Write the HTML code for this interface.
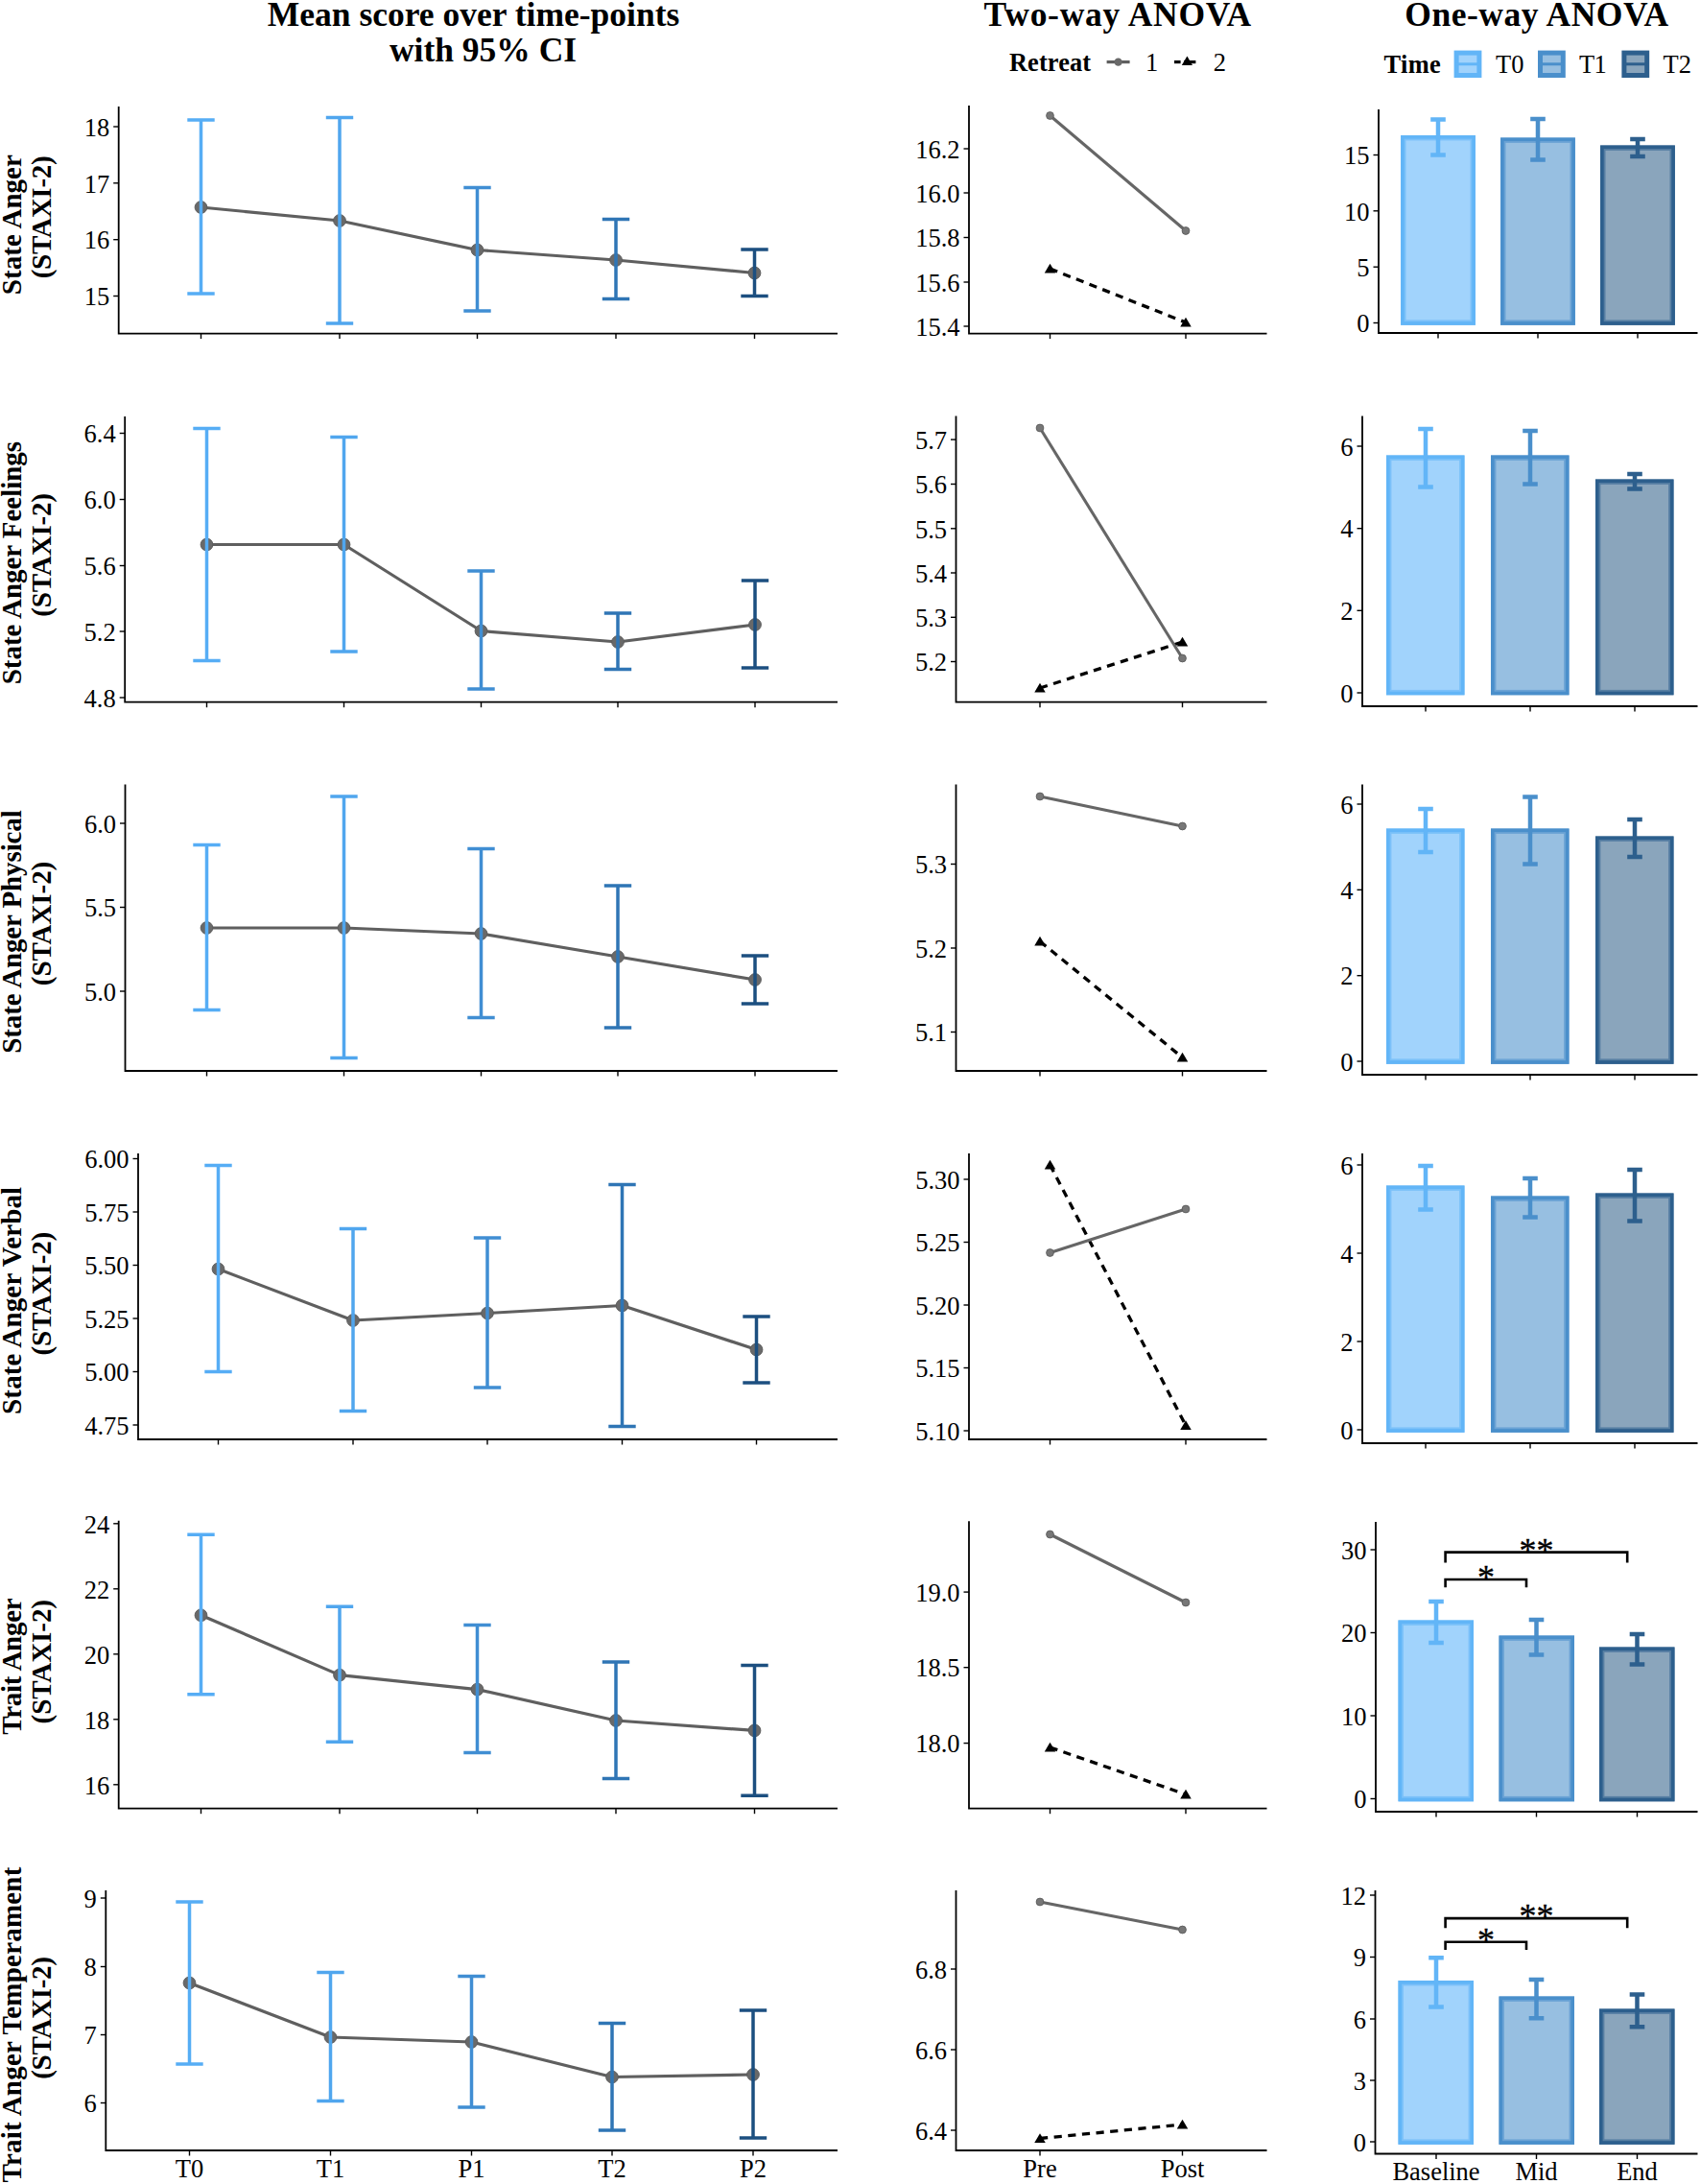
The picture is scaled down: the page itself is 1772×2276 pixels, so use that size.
<!DOCTYPE html>
<html lang="en"><head><meta charset="utf-8"><title>STAXI-2 scores: time-points, two-way and one-way ANOVA</title>
<style>
html,body{margin:0;padding:0;background:#fff;}
body{width:1772px;height:2276px;overflow:hidden;}
svg{display:block;font-family:"Liberation Serif", serif;}
</style></head><body>
<svg width="1772" height="2276" viewBox="0 0 1772 2276" font-family='"Liberation Serif", serif' fill="#000">
<rect width="1772" height="2276" fill="#fff"/>
<text x="278.8" y="27" font-size="35.5" text-anchor="start" font-weight="bold" letter-spacing="0">Mean score over time-points</text>
<text x="405.93" y="64" font-size="35.5" text-anchor="start" font-weight="bold" letter-spacing="0">with 95% CI</text>
<text x="1025.47" y="27" font-size="35.5" text-anchor="start" font-weight="bold" letter-spacing="0.74">Two-way ANOVA</text>
<text x="1464.3" y="27" font-size="35.5" text-anchor="start" font-weight="bold" letter-spacing="0.53">One-way ANOVA</text>
<text x="1051.95" y="74.4" font-size="26.4" text-anchor="start" font-weight="bold" letter-spacing="0.1">Retreat</text>
<line x1="1153.6" y1="64.6" x2="1177.6" y2="64.6" stroke="#5F5F5F" stroke-width="3.2"/>
<circle cx="1165.6" cy="64.6" r="4.2" fill="#696969"/>
<text x="1200.6" y="74.4" font-size="26.5" text-anchor="middle">1</text>
<line x1="1224" y1="64.6" x2="1230.6" y2="64.6" stroke="#000" stroke-width="3.2"/>
<line x1="1234" y1="64.6" x2="1246.4" y2="64.6" stroke="#000" stroke-width="3.2"/>
<path d="M1237.4 58.39 L1243 67.97 L1231.8 67.97 Z" fill="#000"/>
<text x="1271.4" y="74.4" font-size="26.5" text-anchor="middle">2</text>
<text x="1442.6" y="76" font-size="26.4" text-anchor="start" font-weight="bold" letter-spacing="0.3">Time</text>
<rect x="1518.1" y="55.1" width="23.8" height="23.4" fill="#A1D3FC" stroke="#62B5F7" stroke-width="5"/>
<line x1="1518.1" y1="66.8" x2="1541.9" y2="66.8" stroke="#62B5F7" stroke-width="3"/>
<text x="1559.12" y="76" font-size="26.5" text-anchor="start" letter-spacing="0.04">T0</text>
<rect x="1605.5" y="55.1" width="23.8" height="23.4" fill="#97BFE1" stroke="#4A8FCB" stroke-width="5"/>
<line x1="1605.5" y1="66.8" x2="1629.3" y2="66.8" stroke="#4A8FCB" stroke-width="3"/>
<text x="1645.92" y="76" font-size="26.5" text-anchor="start" letter-spacing="-0.5">T1</text>
<rect x="1692.9" y="55.1" width="23.8" height="23.4" fill="#8AA5BC" stroke="#2D5F8D" stroke-width="5"/>
<line x1="1692.9" y1="66.8" x2="1716.7" y2="66.8" stroke="#2D5F8D" stroke-width="3"/>
<text x="1733.52" y="76" font-size="26.5" text-anchor="start" letter-spacing="0.09">T2</text>
<path d="M123.7 111 V347.6 H873" fill="none" stroke="#000" stroke-width="1.8" stroke-linejoin="miter"/>
<line x1="118.2" y1="132" x2="123.7" y2="132" stroke="#000" stroke-width="1.4"/>
<text x="114.2" y="141.7" font-size="26.5" text-anchor="end">18</text>
<line x1="118.2" y1="190.8" x2="123.7" y2="190.8" stroke="#000" stroke-width="1.4"/>
<text x="114.2" y="200.5" font-size="26.5" text-anchor="end">17</text>
<line x1="118.2" y1="249.7" x2="123.7" y2="249.7" stroke="#000" stroke-width="1.4"/>
<text x="114.2" y="259.4" font-size="26.5" text-anchor="end">16</text>
<line x1="118.2" y1="308.5" x2="123.7" y2="308.5" stroke="#000" stroke-width="1.4"/>
<text x="114.2" y="318.2" font-size="26.5" text-anchor="end">15</text>
<line x1="209.5" y1="347.6" x2="209.5" y2="353.1" stroke="#000" stroke-width="1.4"/>
<line x1="354" y1="347.6" x2="354" y2="353.1" stroke="#000" stroke-width="1.4"/>
<line x1="497.5" y1="347.6" x2="497.5" y2="353.1" stroke="#000" stroke-width="1.4"/>
<line x1="642" y1="347.6" x2="642" y2="353.1" stroke="#000" stroke-width="1.4"/>
<line x1="786.5" y1="347.6" x2="786.5" y2="353.1" stroke="#000" stroke-width="1.4"/>
<path d="M209.5 216 L354 230 L497.5 260.5 L642 271 L786.5 284.5" fill="none" stroke="#5F5F5F" stroke-width="3.2" stroke-linejoin="round"/>
<circle cx="209.5" cy="216" r="6.4" fill="#696969" stroke="#5a5a5a" stroke-width="0.9"/>
<circle cx="354" cy="230" r="6.4" fill="#696969" stroke="#5a5a5a" stroke-width="0.9"/>
<circle cx="497.5" cy="260.5" r="6.4" fill="#696969" stroke="#5a5a5a" stroke-width="0.9"/>
<circle cx="642" cy="271" r="6.4" fill="#696969" stroke="#5a5a5a" stroke-width="0.9"/>
<circle cx="786.5" cy="284.5" r="6.4" fill="#696969" stroke="#5a5a5a" stroke-width="0.9"/>
<path d="M195.3 125 H223.7 M195.3 306 H223.7 M209.5 125 V306" fill="none" stroke="#56ADF5" stroke-width="3.5"/>
<path d="M339.8 122.5 H368.2 M339.8 337 H368.2 M354 122.5 V337" fill="none" stroke="#50A6EE" stroke-width="3.5"/>
<path d="M483.3 195.5 H511.7 M483.3 324 H511.7 M497.5 195.5 V324" fill="none" stroke="#408ED3" stroke-width="3.5"/>
<path d="M627.8 228.5 H656.2 M627.8 311.5 H656.2 M642 228.5 V311.5" fill="none" stroke="#2F75B5" stroke-width="3.5"/>
<path d="M772.3 260 H800.7 M772.3 308.5 H800.7 M786.5 260 V308.5" fill="none" stroke="#1C4F80" stroke-width="3.5"/>
<text transform="translate(21.8 305.6) rotate(-90)" x="-1.54" y="0" font-size="29" font-weight="bold" letter-spacing="0.02">State Anger</text>
<text transform="translate(52.7 289.1) rotate(-90)" x="-1.25" y="0" font-size="29" font-weight="bold" letter-spacing="-0.23">(STAXI-2)</text>
<path d="M130.2 434 V731.7 H873" fill="none" stroke="#000" stroke-width="1.8" stroke-linejoin="miter"/>
<line x1="124.7" y1="451.5" x2="130.2" y2="451.5" stroke="#000" stroke-width="1.4"/>
<text x="120.7" y="461.2" font-size="26.5" text-anchor="end">6.4</text>
<line x1="124.7" y1="520.5" x2="130.2" y2="520.5" stroke="#000" stroke-width="1.4"/>
<text x="120.7" y="530.2" font-size="26.5" text-anchor="end">6.0</text>
<line x1="124.7" y1="589.5" x2="130.2" y2="589.5" stroke="#000" stroke-width="1.4"/>
<text x="120.7" y="599.2" font-size="26.5" text-anchor="end">5.6</text>
<line x1="124.7" y1="658" x2="130.2" y2="658" stroke="#000" stroke-width="1.4"/>
<text x="120.7" y="667.7" font-size="26.5" text-anchor="end">5.2</text>
<line x1="124.7" y1="727" x2="130.2" y2="727" stroke="#000" stroke-width="1.4"/>
<text x="120.7" y="736.7" font-size="26.5" text-anchor="end">4.8</text>
<line x1="215.5" y1="731.7" x2="215.5" y2="737.2" stroke="#000" stroke-width="1.4"/>
<line x1="358.5" y1="731.7" x2="358.5" y2="737.2" stroke="#000" stroke-width="1.4"/>
<line x1="501.5" y1="731.7" x2="501.5" y2="737.2" stroke="#000" stroke-width="1.4"/>
<line x1="644" y1="731.7" x2="644" y2="737.2" stroke="#000" stroke-width="1.4"/>
<line x1="787" y1="731.7" x2="787" y2="737.2" stroke="#000" stroke-width="1.4"/>
<path d="M215.5 567.5 L358.5 567.5 L501.5 657.5 L644 669 L787 651" fill="none" stroke="#5F5F5F" stroke-width="3.2" stroke-linejoin="round"/>
<circle cx="215.5" cy="567.5" r="6.4" fill="#696969" stroke="#5a5a5a" stroke-width="0.9"/>
<circle cx="358.5" cy="567.5" r="6.4" fill="#696969" stroke="#5a5a5a" stroke-width="0.9"/>
<circle cx="501.5" cy="657.5" r="6.4" fill="#696969" stroke="#5a5a5a" stroke-width="0.9"/>
<circle cx="644" cy="669" r="6.4" fill="#696969" stroke="#5a5a5a" stroke-width="0.9"/>
<circle cx="787" cy="651" r="6.4" fill="#696969" stroke="#5a5a5a" stroke-width="0.9"/>
<path d="M201.3 446.5 H229.7 M201.3 688.5 H229.7 M215.5 446.5 V688.5" fill="none" stroke="#56ADF5" stroke-width="3.5"/>
<path d="M344.3 455.5 H372.7 M344.3 679 H372.7 M358.5 455.5 V679" fill="none" stroke="#50A6EE" stroke-width="3.5"/>
<path d="M487.3 595 H515.7 M487.3 718 H515.7 M501.5 595 V718" fill="none" stroke="#408ED3" stroke-width="3.5"/>
<path d="M629.8 639 H658.2 M629.8 697.5 H658.2 M644 639 V697.5" fill="none" stroke="#2F75B5" stroke-width="3.5"/>
<path d="M772.8 605 H801.2 M772.8 696 H801.2 M787 605 V696" fill="none" stroke="#1C4F80" stroke-width="3.5"/>
<text transform="translate(21.8 711.7) rotate(-90)" x="-1.54" y="0" font-size="29" font-weight="bold" letter-spacing="-0.04">State Anger Feelings</text>
<text transform="translate(52.7 641.4) rotate(-90)" x="-1.25" y="0" font-size="29" font-weight="bold" letter-spacing="-0.16">(STAXI-2)</text>
<path d="M130.5 817.5 V1116 H873" fill="none" stroke="#000" stroke-width="1.8" stroke-linejoin="miter"/>
<line x1="125" y1="858" x2="130.5" y2="858" stroke="#000" stroke-width="1.4"/>
<text x="121" y="867.7" font-size="26.5" text-anchor="end">6.0</text>
<line x1="125" y1="945.5" x2="130.5" y2="945.5" stroke="#000" stroke-width="1.4"/>
<text x="121" y="955.2" font-size="26.5" text-anchor="end">5.5</text>
<line x1="125" y1="1033" x2="130.5" y2="1033" stroke="#000" stroke-width="1.4"/>
<text x="121" y="1042.7" font-size="26.5" text-anchor="end">5.0</text>
<line x1="215.5" y1="1116" x2="215.5" y2="1121.5" stroke="#000" stroke-width="1.4"/>
<line x1="358.5" y1="1116" x2="358.5" y2="1121.5" stroke="#000" stroke-width="1.4"/>
<line x1="501.5" y1="1116" x2="501.5" y2="1121.5" stroke="#000" stroke-width="1.4"/>
<line x1="644" y1="1116" x2="644" y2="1121.5" stroke="#000" stroke-width="1.4"/>
<line x1="787" y1="1116" x2="787" y2="1121.5" stroke="#000" stroke-width="1.4"/>
<path d="M215.5 967 L358.5 967 L501.5 973 L644 997 L787 1021" fill="none" stroke="#5F5F5F" stroke-width="3.2" stroke-linejoin="round"/>
<circle cx="215.5" cy="967" r="6.4" fill="#696969" stroke="#5a5a5a" stroke-width="0.9"/>
<circle cx="358.5" cy="967" r="6.4" fill="#696969" stroke="#5a5a5a" stroke-width="0.9"/>
<circle cx="501.5" cy="973" r="6.4" fill="#696969" stroke="#5a5a5a" stroke-width="0.9"/>
<circle cx="644" cy="997" r="6.4" fill="#696969" stroke="#5a5a5a" stroke-width="0.9"/>
<circle cx="787" cy="1021" r="6.4" fill="#696969" stroke="#5a5a5a" stroke-width="0.9"/>
<path d="M201.3 880.5 H229.7 M201.3 1052.5 H229.7 M215.5 880.5 V1052.5" fill="none" stroke="#56ADF5" stroke-width="3.5"/>
<path d="M344.3 830 H372.7 M344.3 1102.5 H372.7 M358.5 830 V1102.5" fill="none" stroke="#50A6EE" stroke-width="3.5"/>
<path d="M487.3 884.5 H515.7 M487.3 1060.5 H515.7 M501.5 884.5 V1060.5" fill="none" stroke="#408ED3" stroke-width="3.5"/>
<path d="M629.8 923 H658.2 M629.8 1071 H658.2 M644 923 V1071" fill="none" stroke="#2F75B5" stroke-width="3.5"/>
<path d="M772.8 996 H801.2 M772.8 1046 H801.2 M787 996 V1046" fill="none" stroke="#1C4F80" stroke-width="3.5"/>
<text transform="translate(21.8 1096.2) rotate(-90)" x="-1.54" y="0" font-size="29" font-weight="bold" letter-spacing="-0.11">State Anger Physical</text>
<text transform="translate(52.7 1025.9) rotate(-90)" x="-1.25" y="0" font-size="29" font-weight="bold" letter-spacing="-0.07">(STAXI-2)</text>
<path d="M144 1202 V1500 H873" fill="none" stroke="#000" stroke-width="1.8" stroke-linejoin="miter"/>
<line x1="138.5" y1="1207.5" x2="144" y2="1207.5" stroke="#000" stroke-width="1.4"/>
<text x="134.5" y="1217.2" font-size="26.5" text-anchor="end">6.00</text>
<line x1="138.5" y1="1263" x2="144" y2="1263" stroke="#000" stroke-width="1.4"/>
<text x="134.5" y="1272.7" font-size="26.5" text-anchor="end">5.75</text>
<line x1="138.5" y1="1318.5" x2="144" y2="1318.5" stroke="#000" stroke-width="1.4"/>
<text x="134.5" y="1328.2" font-size="26.5" text-anchor="end">5.50</text>
<line x1="138.5" y1="1374" x2="144" y2="1374" stroke="#000" stroke-width="1.4"/>
<text x="134.5" y="1383.7" font-size="26.5" text-anchor="end">5.25</text>
<line x1="138.5" y1="1429.5" x2="144" y2="1429.5" stroke="#000" stroke-width="1.4"/>
<text x="134.5" y="1439.2" font-size="26.5" text-anchor="end">5.00</text>
<line x1="138.5" y1="1485" x2="144" y2="1485" stroke="#000" stroke-width="1.4"/>
<text x="134.5" y="1494.7" font-size="26.5" text-anchor="end">4.75</text>
<line x1="227.5" y1="1500" x2="227.5" y2="1505.5" stroke="#000" stroke-width="1.4"/>
<line x1="368" y1="1500" x2="368" y2="1505.5" stroke="#000" stroke-width="1.4"/>
<line x1="508" y1="1500" x2="508" y2="1505.5" stroke="#000" stroke-width="1.4"/>
<line x1="648.5" y1="1500" x2="648.5" y2="1505.5" stroke="#000" stroke-width="1.4"/>
<line x1="788.5" y1="1500" x2="788.5" y2="1505.5" stroke="#000" stroke-width="1.4"/>
<path d="M227.5 1322.5 L368 1376 L508 1368.5 L648.5 1360.5 L788.5 1406.5" fill="none" stroke="#5F5F5F" stroke-width="3.2" stroke-linejoin="round"/>
<circle cx="227.5" cy="1322.5" r="6.4" fill="#696969" stroke="#5a5a5a" stroke-width="0.9"/>
<circle cx="368" cy="1376" r="6.4" fill="#696969" stroke="#5a5a5a" stroke-width="0.9"/>
<circle cx="508" cy="1368.5" r="6.4" fill="#696969" stroke="#5a5a5a" stroke-width="0.9"/>
<circle cx="648.5" cy="1360.5" r="6.4" fill="#696969" stroke="#5a5a5a" stroke-width="0.9"/>
<circle cx="788.5" cy="1406.5" r="6.4" fill="#696969" stroke="#5a5a5a" stroke-width="0.9"/>
<path d="M213.3 1214.5 H241.7 M213.3 1429.5 H241.7 M227.5 1214.5 V1429.5" fill="none" stroke="#56ADF5" stroke-width="3.5"/>
<path d="M353.8 1280.5 H382.2 M353.8 1470.5 H382.2 M368 1280.5 V1470.5" fill="none" stroke="#50A6EE" stroke-width="3.5"/>
<path d="M493.8 1290 H522.2 M493.8 1446 H522.2 M508 1290 V1446" fill="none" stroke="#408ED3" stroke-width="3.5"/>
<path d="M634.3 1234.5 H662.7 M634.3 1486.5 H662.7 M648.5 1234.5 V1486.5" fill="none" stroke="#2F75B5" stroke-width="3.5"/>
<path d="M774.3 1372 H802.7 M774.3 1441 H802.7 M788.5 1372 V1441" fill="none" stroke="#1C4F80" stroke-width="3.5"/>
<text transform="translate(21.8 1472.4) rotate(-90)" x="-1.54" y="0" font-size="29" font-weight="bold" letter-spacing="0.14">State Anger Verbal</text>
<text transform="translate(52.7 1411.2) rotate(-90)" x="-1.25" y="0" font-size="29" font-weight="bold" letter-spacing="-0.16">(STAXI-2)</text>
<path d="M123.7 1584.8 V1884.7 H873" fill="none" stroke="#000" stroke-width="1.8" stroke-linejoin="miter"/>
<line x1="118.2" y1="1587.8" x2="123.7" y2="1587.8" stroke="#000" stroke-width="1.4"/>
<text x="114.2" y="1597.5" font-size="26.5" text-anchor="end">24</text>
<line x1="118.2" y1="1655.8" x2="123.7" y2="1655.8" stroke="#000" stroke-width="1.4"/>
<text x="114.2" y="1665.5" font-size="26.5" text-anchor="end">22</text>
<line x1="118.2" y1="1723.8" x2="123.7" y2="1723.8" stroke="#000" stroke-width="1.4"/>
<text x="114.2" y="1733.5" font-size="26.5" text-anchor="end">20</text>
<line x1="118.2" y1="1791.8" x2="123.7" y2="1791.8" stroke="#000" stroke-width="1.4"/>
<text x="114.2" y="1801.5" font-size="26.5" text-anchor="end">18</text>
<line x1="118.2" y1="1859.8" x2="123.7" y2="1859.8" stroke="#000" stroke-width="1.4"/>
<text x="114.2" y="1869.5" font-size="26.5" text-anchor="end">16</text>
<line x1="209.5" y1="1884.7" x2="209.5" y2="1890.2" stroke="#000" stroke-width="1.4"/>
<line x1="354" y1="1884.7" x2="354" y2="1890.2" stroke="#000" stroke-width="1.4"/>
<line x1="497.5" y1="1884.7" x2="497.5" y2="1890.2" stroke="#000" stroke-width="1.4"/>
<line x1="642" y1="1884.7" x2="642" y2="1890.2" stroke="#000" stroke-width="1.4"/>
<line x1="786.5" y1="1884.7" x2="786.5" y2="1890.2" stroke="#000" stroke-width="1.4"/>
<path d="M209.5 1683.3 L354 1745.6 L497.5 1760.6 L642 1793 L786.5 1803.4" fill="none" stroke="#5F5F5F" stroke-width="3.2" stroke-linejoin="round"/>
<circle cx="209.5" cy="1683.3" r="6.4" fill="#696969" stroke="#5a5a5a" stroke-width="0.9"/>
<circle cx="354" cy="1745.6" r="6.4" fill="#696969" stroke="#5a5a5a" stroke-width="0.9"/>
<circle cx="497.5" cy="1760.6" r="6.4" fill="#696969" stroke="#5a5a5a" stroke-width="0.9"/>
<circle cx="642" cy="1793" r="6.4" fill="#696969" stroke="#5a5a5a" stroke-width="0.9"/>
<circle cx="786.5" cy="1803.4" r="6.4" fill="#696969" stroke="#5a5a5a" stroke-width="0.9"/>
<path d="M195.3 1599.3 H223.7 M195.3 1765.8 H223.7 M209.5 1599.3 V1765.8" fill="none" stroke="#56ADF5" stroke-width="3.5"/>
<path d="M339.8 1674.3 H368.2 M339.8 1815.3 H368.2 M354 1674.3 V1815.3" fill="none" stroke="#50A6EE" stroke-width="3.5"/>
<path d="M483.3 1693.6 H511.7 M483.3 1826.6 H511.7 M497.5 1693.6 V1826.6" fill="none" stroke="#408ED3" stroke-width="3.5"/>
<path d="M627.8 1732 H656.2 M627.8 1853.6 H656.2 M642 1732 V1853.6" fill="none" stroke="#2F75B5" stroke-width="3.5"/>
<path d="M772.3 1735.4 H800.7 M772.3 1871.2 H800.7 M786.5 1735.4 V1871.2" fill="none" stroke="#1C4F80" stroke-width="3.5"/>
<text transform="translate(21.8 1807.3) rotate(-90)" x="-0.43" y="0" font-size="29" font-weight="bold" letter-spacing="-0.29">Trait Anger</text>
<text transform="translate(52.7 1795.2) rotate(-90)" x="-1.25" y="0" font-size="29" font-weight="bold" letter-spacing="-0.06">(STAXI-2)</text>
<path d="M110.3 1970 V2241 H873" fill="none" stroke="#000" stroke-width="1.8" stroke-linejoin="miter"/>
<line x1="104.8" y1="1978" x2="110.3" y2="1978" stroke="#000" stroke-width="1.4"/>
<text x="100.8" y="1987.7" font-size="26.5" text-anchor="end">9</text>
<line x1="104.8" y1="2049.5" x2="110.3" y2="2049.5" stroke="#000" stroke-width="1.4"/>
<text x="100.8" y="2059.2" font-size="26.5" text-anchor="end">8</text>
<line x1="104.8" y1="2120.5" x2="110.3" y2="2120.5" stroke="#000" stroke-width="1.4"/>
<text x="100.8" y="2130.2" font-size="26.5" text-anchor="end">7</text>
<line x1="104.8" y1="2191.5" x2="110.3" y2="2191.5" stroke="#000" stroke-width="1.4"/>
<text x="100.8" y="2201.2" font-size="26.5" text-anchor="end">6</text>
<line x1="197.5" y1="2241" x2="197.5" y2="2246.5" stroke="#000" stroke-width="1.4"/>
<text x="197.5" y="2268.5" font-size="26.5" text-anchor="middle">T0</text>
<line x1="344.5" y1="2241" x2="344.5" y2="2246.5" stroke="#000" stroke-width="1.4"/>
<text x="344.5" y="2268.5" font-size="26.5" text-anchor="middle">T1</text>
<line x1="491.5" y1="2241" x2="491.5" y2="2246.5" stroke="#000" stroke-width="1.4"/>
<text x="491.5" y="2268.5" font-size="26.5" text-anchor="middle">P1</text>
<line x1="638" y1="2241" x2="638" y2="2246.5" stroke="#000" stroke-width="1.4"/>
<text x="638" y="2268.5" font-size="26.5" text-anchor="middle">T2</text>
<line x1="785" y1="2241" x2="785" y2="2246.5" stroke="#000" stroke-width="1.4"/>
<text x="785" y="2268.5" font-size="26.5" text-anchor="middle">P2</text>
<path d="M197.5 2066.5 L344.5 2123 L491.5 2128 L638 2164.5 L785 2162" fill="none" stroke="#5F5F5F" stroke-width="3.2" stroke-linejoin="round"/>
<circle cx="197.5" cy="2066.5" r="6.4" fill="#696969" stroke="#5a5a5a" stroke-width="0.9"/>
<circle cx="344.5" cy="2123" r="6.4" fill="#696969" stroke="#5a5a5a" stroke-width="0.9"/>
<circle cx="491.5" cy="2128" r="6.4" fill="#696969" stroke="#5a5a5a" stroke-width="0.9"/>
<circle cx="638" cy="2164.5" r="6.4" fill="#696969" stroke="#5a5a5a" stroke-width="0.9"/>
<circle cx="785" cy="2162" r="6.4" fill="#696969" stroke="#5a5a5a" stroke-width="0.9"/>
<path d="M183.3 1982 H211.7 M183.3 2151 H211.7 M197.5 1982 V2151" fill="none" stroke="#56ADF5" stroke-width="3.5"/>
<path d="M330.3 2055.5 H358.7 M330.3 2189.5 H358.7 M344.5 2055.5 V2189.5" fill="none" stroke="#50A6EE" stroke-width="3.5"/>
<path d="M477.3 2059.5 H505.7 M477.3 2196 H505.7 M491.5 2059.5 V2196" fill="none" stroke="#408ED3" stroke-width="3.5"/>
<path d="M623.8 2108.5 H652.2 M623.8 2220 H652.2 M638 2108.5 V2220" fill="none" stroke="#2F75B5" stroke-width="3.5"/>
<path d="M770.8 2095 H799.2 M770.8 2228 H799.2 M785 2095 V2228" fill="none" stroke="#1C4F80" stroke-width="3.5"/>
<text transform="translate(21.8 2274) rotate(-90)" x="-0.43" y="0" font-size="29" font-weight="bold" letter-spacing="0.2">Trait Anger Temperament</text>
<text transform="translate(52.7 2165.6) rotate(-90)" x="-1.25" y="0" font-size="29" font-weight="bold" letter-spacing="-0.27">(STAXI-2)</text>
<path d="M1010 110 V347.6 H1320.5" fill="none" stroke="#000" stroke-width="1.8" stroke-linejoin="miter"/>
<line x1="1004.5" y1="155" x2="1010" y2="155" stroke="#000" stroke-width="1.4"/>
<text x="1000.5" y="164.7" font-size="26.5" text-anchor="end">16.2</text>
<line x1="1004.5" y1="201" x2="1010" y2="201" stroke="#000" stroke-width="1.4"/>
<text x="1000.5" y="210.7" font-size="26.5" text-anchor="end">16.0</text>
<line x1="1004.5" y1="247.5" x2="1010" y2="247.5" stroke="#000" stroke-width="1.4"/>
<text x="1000.5" y="257.2" font-size="26.5" text-anchor="end">15.8</text>
<line x1="1004.5" y1="294" x2="1010" y2="294" stroke="#000" stroke-width="1.4"/>
<text x="1000.5" y="303.7" font-size="26.5" text-anchor="end">15.6</text>
<line x1="1004.5" y1="340" x2="1010" y2="340" stroke="#000" stroke-width="1.4"/>
<text x="1000.5" y="349.7" font-size="26.5" text-anchor="end">15.4</text>
<line x1="1094.5" y1="347.6" x2="1094.5" y2="353.1" stroke="#000" stroke-width="1.4"/>
<line x1="1236" y1="347.6" x2="1236" y2="353.1" stroke="#000" stroke-width="1.4"/>
<line x1="1094.5" y1="280" x2="1236" y2="336" stroke="#000" stroke-width="3.3" stroke-dasharray="8.2 6.5"/>
<path d="M1094.5 274.65 L1100.25 284.49 L1088.75 284.49 Z" fill="#000"/>
<path d="M1236 330.65 L1241.75 340.49 L1230.25 340.49 Z" fill="#000"/>
<line x1="1094.5" y1="120.5" x2="1236" y2="240.5" stroke="#666" stroke-width="3.1"/>
<circle cx="1094.5" cy="120.5" r="3.9" fill="#777" stroke="#5c5c5c" stroke-width="0.9"/>
<circle cx="1236" cy="240.5" r="3.9" fill="#777" stroke="#5c5c5c" stroke-width="0.9"/>
<path d="M996.5 433.5 V731.7 H1320.5" fill="none" stroke="#000" stroke-width="1.8" stroke-linejoin="miter"/>
<line x1="991" y1="458.1" x2="996.5" y2="458.1" stroke="#000" stroke-width="1.4"/>
<text x="987" y="467.8" font-size="26.5" text-anchor="end">5.7</text>
<line x1="991" y1="504.5" x2="996.5" y2="504.5" stroke="#000" stroke-width="1.4"/>
<text x="987" y="514.2" font-size="26.5" text-anchor="end">5.6</text>
<line x1="991" y1="550.8" x2="996.5" y2="550.8" stroke="#000" stroke-width="1.4"/>
<text x="987" y="560.5" font-size="26.5" text-anchor="end">5.5</text>
<line x1="991" y1="597" x2="996.5" y2="597" stroke="#000" stroke-width="1.4"/>
<text x="987" y="606.7" font-size="26.5" text-anchor="end">5.4</text>
<line x1="991" y1="643.3" x2="996.5" y2="643.3" stroke="#000" stroke-width="1.4"/>
<text x="987" y="653" font-size="26.5" text-anchor="end">5.3</text>
<line x1="991" y1="689.5" x2="996.5" y2="689.5" stroke="#000" stroke-width="1.4"/>
<text x="987" y="699.2" font-size="26.5" text-anchor="end">5.2</text>
<line x1="1084" y1="731.7" x2="1084" y2="737.2" stroke="#000" stroke-width="1.4"/>
<line x1="1232.5" y1="731.7" x2="1232.5" y2="737.2" stroke="#000" stroke-width="1.4"/>
<line x1="1084" y1="717" x2="1232.5" y2="669" stroke="#000" stroke-width="3.3" stroke-dasharray="8.2 6.5"/>
<path d="M1084 711.65 L1089.75 721.49 L1078.25 721.49 Z" fill="#000"/>
<path d="M1232.5 663.65 L1238.25 673.49 L1226.75 673.49 Z" fill="#000"/>
<line x1="1084" y1="446" x2="1232.5" y2="686" stroke="#666" stroke-width="3.1"/>
<circle cx="1084" cy="446" r="3.9" fill="#777" stroke="#5c5c5c" stroke-width="0.9"/>
<circle cx="1232.5" cy="686" r="3.9" fill="#777" stroke="#5c5c5c" stroke-width="0.9"/>
<path d="M996.5 817.5 V1116 H1320.5" fill="none" stroke="#000" stroke-width="1.8" stroke-linejoin="miter"/>
<line x1="991" y1="900.5" x2="996.5" y2="900.5" stroke="#000" stroke-width="1.4"/>
<text x="987" y="910.2" font-size="26.5" text-anchor="end">5.3</text>
<line x1="991" y1="988" x2="996.5" y2="988" stroke="#000" stroke-width="1.4"/>
<text x="987" y="997.7" font-size="26.5" text-anchor="end">5.2</text>
<line x1="991" y1="1075.5" x2="996.5" y2="1075.5" stroke="#000" stroke-width="1.4"/>
<text x="987" y="1085.2" font-size="26.5" text-anchor="end">5.1</text>
<line x1="1084" y1="1116" x2="1084" y2="1121.5" stroke="#000" stroke-width="1.4"/>
<line x1="1232.5" y1="1116" x2="1232.5" y2="1121.5" stroke="#000" stroke-width="1.4"/>
<line x1="1084" y1="981" x2="1232.5" y2="1102" stroke="#000" stroke-width="3.3" stroke-dasharray="8.2 6.5"/>
<path d="M1084 975.65 L1089.75 985.49 L1078.25 985.49 Z" fill="#000"/>
<path d="M1232.5 1096.65 L1238.25 1106.48 L1226.75 1106.48 Z" fill="#000"/>
<line x1="1084" y1="830" x2="1232.5" y2="861" stroke="#666" stroke-width="3.1"/>
<circle cx="1084" cy="830" r="3.9" fill="#777" stroke="#5c5c5c" stroke-width="0.9"/>
<circle cx="1232.5" cy="861" r="3.9" fill="#777" stroke="#5c5c5c" stroke-width="0.9"/>
<path d="M1010 1202 V1500 H1320.5" fill="none" stroke="#000" stroke-width="1.8" stroke-linejoin="miter"/>
<line x1="1004.5" y1="1229" x2="1010" y2="1229" stroke="#000" stroke-width="1.4"/>
<text x="1000.5" y="1238.7" font-size="26.5" text-anchor="end">5.30</text>
<line x1="1004.5" y1="1294.5" x2="1010" y2="1294.5" stroke="#000" stroke-width="1.4"/>
<text x="1000.5" y="1304.2" font-size="26.5" text-anchor="end">5.25</text>
<line x1="1004.5" y1="1360" x2="1010" y2="1360" stroke="#000" stroke-width="1.4"/>
<text x="1000.5" y="1369.7" font-size="26.5" text-anchor="end">5.20</text>
<line x1="1004.5" y1="1425.5" x2="1010" y2="1425.5" stroke="#000" stroke-width="1.4"/>
<text x="1000.5" y="1435.2" font-size="26.5" text-anchor="end">5.15</text>
<line x1="1004.5" y1="1491" x2="1010" y2="1491" stroke="#000" stroke-width="1.4"/>
<text x="1000.5" y="1500.7" font-size="26.5" text-anchor="end">5.10</text>
<line x1="1094.5" y1="1500" x2="1094.5" y2="1505.5" stroke="#000" stroke-width="1.4"/>
<line x1="1236" y1="1500" x2="1236" y2="1505.5" stroke="#000" stroke-width="1.4"/>
<line x1="1094.5" y1="1214" x2="1236" y2="1485.5" stroke="#000" stroke-width="3.3" stroke-dasharray="8.2 6.5"/>
<path d="M1094.5 1208.65 L1100.25 1218.48 L1088.75 1218.48 Z" fill="#000"/>
<path d="M1236 1480.15 L1241.75 1489.98 L1230.25 1489.98 Z" fill="#000"/>
<line x1="1094.5" y1="1305.5" x2="1236" y2="1260" stroke="#666" stroke-width="3.1"/>
<circle cx="1094.5" cy="1305.5" r="3.9" fill="#777" stroke="#5c5c5c" stroke-width="0.9"/>
<circle cx="1236" cy="1260" r="3.9" fill="#777" stroke="#5c5c5c" stroke-width="0.9"/>
<path d="M1010 1585.3 V1884.7 H1320.5" fill="none" stroke="#000" stroke-width="1.8" stroke-linejoin="miter"/>
<line x1="1004.5" y1="1659.1" x2="1010" y2="1659.1" stroke="#000" stroke-width="1.4"/>
<text x="1000.5" y="1668.8" font-size="26.5" text-anchor="end">19.0</text>
<line x1="1004.5" y1="1737.7" x2="1010" y2="1737.7" stroke="#000" stroke-width="1.4"/>
<text x="1000.5" y="1747.4" font-size="26.5" text-anchor="end">18.5</text>
<line x1="1004.5" y1="1816.6" x2="1010" y2="1816.6" stroke="#000" stroke-width="1.4"/>
<text x="1000.5" y="1826.3" font-size="26.5" text-anchor="end">18.0</text>
<line x1="1094.5" y1="1884.7" x2="1094.5" y2="1890.2" stroke="#000" stroke-width="1.4"/>
<line x1="1236" y1="1884.7" x2="1236" y2="1890.2" stroke="#000" stroke-width="1.4"/>
<line x1="1094.5" y1="1821" x2="1236" y2="1870" stroke="#000" stroke-width="3.3" stroke-dasharray="8.2 6.5"/>
<path d="M1094.5 1815.65 L1100.25 1825.48 L1088.75 1825.48 Z" fill="#000"/>
<path d="M1236 1864.65 L1241.75 1874.48 L1230.25 1874.48 Z" fill="#000"/>
<line x1="1094.5" y1="1599" x2="1236" y2="1670" stroke="#666" stroke-width="3.1"/>
<circle cx="1094.5" cy="1599" r="3.9" fill="#777" stroke="#5c5c5c" stroke-width="0.9"/>
<circle cx="1236" cy="1670" r="3.9" fill="#777" stroke="#5c5c5c" stroke-width="0.9"/>
<path d="M996.5 1970 V2241 H1320.5" fill="none" stroke="#000" stroke-width="1.8" stroke-linejoin="miter"/>
<line x1="991" y1="2052" x2="996.5" y2="2052" stroke="#000" stroke-width="1.4"/>
<text x="987" y="2061.7" font-size="26.5" text-anchor="end">6.8</text>
<line x1="991" y1="2136" x2="996.5" y2="2136" stroke="#000" stroke-width="1.4"/>
<text x="987" y="2145.7" font-size="26.5" text-anchor="end">6.6</text>
<line x1="991" y1="2220" x2="996.5" y2="2220" stroke="#000" stroke-width="1.4"/>
<text x="987" y="2229.7" font-size="26.5" text-anchor="end">6.4</text>
<line x1="1084" y1="2241" x2="1084" y2="2246.5" stroke="#000" stroke-width="1.4"/>
<text x="1084" y="2268.5" font-size="26.5" text-anchor="middle">Pre</text>
<line x1="1232.5" y1="2241" x2="1232.5" y2="2246.5" stroke="#000" stroke-width="1.4"/>
<text x="1232.5" y="2268.5" font-size="26.5" text-anchor="middle">Post</text>
<line x1="1084" y1="2228.5" x2="1232.5" y2="2214" stroke="#000" stroke-width="3.3" stroke-dasharray="8.2 6.5"/>
<path d="M1084 2223.15 L1089.75 2232.99 L1078.25 2232.99 Z" fill="#000"/>
<path d="M1232.5 2208.65 L1238.25 2218.49 L1226.75 2218.49 Z" fill="#000"/>
<line x1="1084" y1="1982" x2="1232.5" y2="2011" stroke="#666" stroke-width="3.1"/>
<circle cx="1084" cy="1982" r="3.9" fill="#777" stroke="#5c5c5c" stroke-width="0.9"/>
<circle cx="1232.5" cy="2011" r="3.9" fill="#777" stroke="#5c5c5c" stroke-width="0.9"/>
<rect x="1462.8" y="143.7" width="72.4" height="192.4" fill="#A1D3FC" stroke="#7CC1F9" stroke-width="5.4"/>
<rect x="1461.9" y="142.8" width="74.2" height="194.2" fill="none" stroke="#62B5F7" stroke-width="3.6"/>
<rect x="1566.8" y="146.2" width="72.4" height="189.9" fill="#97BFE1" stroke="#6BA3D5" stroke-width="5.4"/>
<rect x="1565.9" y="145.3" width="74.2" height="191.7" fill="none" stroke="#4A8FCB" stroke-width="3.6"/>
<rect x="1670.8" y="154.2" width="72.4" height="181.9" fill="#8AA5BC" stroke="#577FA3" stroke-width="5.4"/>
<rect x="1669.9" y="153.3" width="74.2" height="183.7" fill="none" stroke="#2D5F8D" stroke-width="3.6"/>
<path d="M1491.2 124.5 H1506.8 M1491.2 161.5 H1506.8 M1499 124.5 V161.5" fill="none" stroke="#62B5F7" stroke-width="4.5"/>
<path d="M1595.2 124 H1610.8 M1595.2 166.5 H1610.8 M1603 124 V166.5" fill="none" stroke="#4A8FCB" stroke-width="4.5"/>
<path d="M1699.2 145 H1714.8 M1699.2 163 H1714.8 M1707 145 V163" fill="none" stroke="#2D5F8D" stroke-width="4.5"/>
<path d="M1437 114 V347 H1769.5" fill="none" stroke="#000" stroke-width="1.8" stroke-linejoin="miter"/>
<line x1="1431.5" y1="161.5" x2="1437" y2="161.5" stroke="#000" stroke-width="1.4"/>
<text x="1427.5" y="171.2" font-size="26.5" text-anchor="end">15</text>
<line x1="1431.5" y1="219.8" x2="1437" y2="219.8" stroke="#000" stroke-width="1.4"/>
<text x="1427.5" y="229.5" font-size="26.5" text-anchor="end">10</text>
<line x1="1431.5" y1="278.2" x2="1437" y2="278.2" stroke="#000" stroke-width="1.4"/>
<text x="1427.5" y="287.9" font-size="26.5" text-anchor="end">5</text>
<line x1="1431.5" y1="336.5" x2="1437" y2="336.5" stroke="#000" stroke-width="1.4"/>
<text x="1427.5" y="346.2" font-size="26.5" text-anchor="end">0</text>
<line x1="1499" y1="347" x2="1499" y2="352.5" stroke="#000" stroke-width="1.4"/>
<line x1="1603" y1="347" x2="1603" y2="352.5" stroke="#000" stroke-width="1.4"/>
<line x1="1707" y1="347" x2="1707" y2="352.5" stroke="#000" stroke-width="1.4"/>
<rect x="1447.7" y="477.2" width="76.1" height="244.4" fill="#A1D3FC" stroke="#7CC1F9" stroke-width="5.4"/>
<rect x="1446.8" y="476.3" width="77.9" height="246.2" fill="none" stroke="#62B5F7" stroke-width="3.6"/>
<rect x="1556.7" y="477.2" width="76.1" height="244.4" fill="#97BFE1" stroke="#6BA3D5" stroke-width="5.4"/>
<rect x="1555.8" y="476.3" width="77.9" height="246.2" fill="none" stroke="#4A8FCB" stroke-width="3.6"/>
<rect x="1665.7" y="502.2" width="76.1" height="219.4" fill="#8AA5BC" stroke="#577FA3" stroke-width="5.4"/>
<rect x="1664.8" y="501.3" width="77.9" height="221.2" fill="none" stroke="#2D5F8D" stroke-width="3.6"/>
<path d="M1478.2 447 H1493.8 M1478.2 507.5 H1493.8 M1486 447 V507.5" fill="none" stroke="#62B5F7" stroke-width="4.5"/>
<path d="M1587.2 449 H1602.8 M1587.2 504.5 H1602.8 M1595 449 V504.5" fill="none" stroke="#4A8FCB" stroke-width="4.5"/>
<path d="M1696.2 494 H1711.8 M1696.2 509.5 H1711.8 M1704 494 V509.5" fill="none" stroke="#2D5F8D" stroke-width="4.5"/>
<path d="M1420 433.5 V736 H1769.5" fill="none" stroke="#000" stroke-width="1.8" stroke-linejoin="miter"/>
<line x1="1414.5" y1="465" x2="1420" y2="465" stroke="#000" stroke-width="1.4"/>
<text x="1410.5" y="474.7" font-size="26.5" text-anchor="end">6</text>
<line x1="1414.5" y1="550.7" x2="1420" y2="550.7" stroke="#000" stroke-width="1.4"/>
<text x="1410.5" y="560.4" font-size="26.5" text-anchor="end">4</text>
<line x1="1414.5" y1="636.3" x2="1420" y2="636.3" stroke="#000" stroke-width="1.4"/>
<text x="1410.5" y="646" font-size="26.5" text-anchor="end">2</text>
<line x1="1414.5" y1="722" x2="1420" y2="722" stroke="#000" stroke-width="1.4"/>
<text x="1410.5" y="731.7" font-size="26.5" text-anchor="end">0</text>
<line x1="1486" y1="736" x2="1486" y2="741.5" stroke="#000" stroke-width="1.4"/>
<line x1="1595" y1="736" x2="1595" y2="741.5" stroke="#000" stroke-width="1.4"/>
<line x1="1704" y1="736" x2="1704" y2="741.5" stroke="#000" stroke-width="1.4"/>
<rect x="1447.7" y="866.2" width="76.1" height="239.9" fill="#A1D3FC" stroke="#7CC1F9" stroke-width="5.4"/>
<rect x="1446.8" y="865.3" width="77.9" height="241.7" fill="none" stroke="#62B5F7" stroke-width="3.6"/>
<rect x="1556.7" y="866.2" width="76.1" height="239.9" fill="#97BFE1" stroke="#6BA3D5" stroke-width="5.4"/>
<rect x="1555.8" y="865.3" width="77.9" height="241.7" fill="none" stroke="#4A8FCB" stroke-width="3.6"/>
<rect x="1665.7" y="874.2" width="76.1" height="231.9" fill="#8AA5BC" stroke="#577FA3" stroke-width="5.4"/>
<rect x="1664.8" y="873.3" width="77.9" height="233.7" fill="none" stroke="#2D5F8D" stroke-width="3.6"/>
<path d="M1478.2 843 H1493.8 M1478.2 888 H1493.8 M1486 843 V888" fill="none" stroke="#62B5F7" stroke-width="4.5"/>
<path d="M1587.2 830.5 H1602.8 M1587.2 900.5 H1602.8 M1595 830.5 V900.5" fill="none" stroke="#4A8FCB" stroke-width="4.5"/>
<path d="M1696.2 854 H1711.8 M1696.2 893 H1711.8 M1704 854 V893" fill="none" stroke="#2D5F8D" stroke-width="4.5"/>
<path d="M1420 817.5 V1120 H1769.5" fill="none" stroke="#000" stroke-width="1.8" stroke-linejoin="miter"/>
<line x1="1414.5" y1="838" x2="1420" y2="838" stroke="#000" stroke-width="1.4"/>
<text x="1410.5" y="847.7" font-size="26.5" text-anchor="end">6</text>
<line x1="1414.5" y1="927.3" x2="1420" y2="927.3" stroke="#000" stroke-width="1.4"/>
<text x="1410.5" y="937" font-size="26.5" text-anchor="end">4</text>
<line x1="1414.5" y1="1016.7" x2="1420" y2="1016.7" stroke="#000" stroke-width="1.4"/>
<text x="1410.5" y="1026.4" font-size="26.5" text-anchor="end">2</text>
<line x1="1414.5" y1="1106" x2="1420" y2="1106" stroke="#000" stroke-width="1.4"/>
<text x="1410.5" y="1115.7" font-size="26.5" text-anchor="end">0</text>
<line x1="1486" y1="1120" x2="1486" y2="1125.5" stroke="#000" stroke-width="1.4"/>
<line x1="1595" y1="1120" x2="1595" y2="1125.5" stroke="#000" stroke-width="1.4"/>
<line x1="1704" y1="1120" x2="1704" y2="1125.5" stroke="#000" stroke-width="1.4"/>
<rect x="1447.7" y="1238.2" width="76.1" height="251.9" fill="#A1D3FC" stroke="#7CC1F9" stroke-width="5.4"/>
<rect x="1446.8" y="1237.3" width="77.9" height="253.7" fill="none" stroke="#62B5F7" stroke-width="3.6"/>
<rect x="1556.7" y="1249.2" width="76.1" height="240.9" fill="#97BFE1" stroke="#6BA3D5" stroke-width="5.4"/>
<rect x="1555.8" y="1248.3" width="77.9" height="242.7" fill="none" stroke="#4A8FCB" stroke-width="3.6"/>
<rect x="1665.7" y="1246.2" width="76.1" height="243.9" fill="#8AA5BC" stroke="#577FA3" stroke-width="5.4"/>
<rect x="1664.8" y="1245.3" width="77.9" height="245.7" fill="none" stroke="#2D5F8D" stroke-width="3.6"/>
<path d="M1478.2 1215 H1493.8 M1478.2 1260.5 H1493.8 M1486 1215 V1260.5" fill="none" stroke="#62B5F7" stroke-width="4.5"/>
<path d="M1587.2 1228 H1602.8 M1587.2 1268.5 H1602.8 M1595 1228 V1268.5" fill="none" stroke="#4A8FCB" stroke-width="4.5"/>
<path d="M1696.2 1219 H1711.8 M1696.2 1272.5 H1711.8 M1704 1219 V1272.5" fill="none" stroke="#2D5F8D" stroke-width="4.5"/>
<path d="M1420 1202 V1504 H1769.5" fill="none" stroke="#000" stroke-width="1.8" stroke-linejoin="miter"/>
<line x1="1414.5" y1="1214" x2="1420" y2="1214" stroke="#000" stroke-width="1.4"/>
<text x="1410.5" y="1223.7" font-size="26.5" text-anchor="end">6</text>
<line x1="1414.5" y1="1306" x2="1420" y2="1306" stroke="#000" stroke-width="1.4"/>
<text x="1410.5" y="1315.7" font-size="26.5" text-anchor="end">4</text>
<line x1="1414.5" y1="1398" x2="1420" y2="1398" stroke="#000" stroke-width="1.4"/>
<text x="1410.5" y="1407.7" font-size="26.5" text-anchor="end">2</text>
<line x1="1414.5" y1="1490" x2="1420" y2="1490" stroke="#000" stroke-width="1.4"/>
<text x="1410.5" y="1499.7" font-size="26.5" text-anchor="end">0</text>
<line x1="1486" y1="1504" x2="1486" y2="1509.5" stroke="#000" stroke-width="1.4"/>
<line x1="1595" y1="1504" x2="1595" y2="1509.5" stroke="#000" stroke-width="1.4"/>
<line x1="1704" y1="1504" x2="1704" y2="1509.5" stroke="#000" stroke-width="1.4"/>
<rect x="1460.2" y="1691.2" width="73.1" height="183.4" fill="#A1D3FC" stroke="#7CC1F9" stroke-width="5.4"/>
<rect x="1459.3" y="1690.3" width="74.9" height="185.2" fill="none" stroke="#62B5F7" stroke-width="3.6"/>
<rect x="1565.2" y="1707.2" width="73.1" height="167.4" fill="#97BFE1" stroke="#6BA3D5" stroke-width="5.4"/>
<rect x="1564.3" y="1706.3" width="74.9" height="169.2" fill="none" stroke="#4A8FCB" stroke-width="3.6"/>
<rect x="1669.7" y="1719.2" width="73.1" height="155.4" fill="#8AA5BC" stroke="#577FA3" stroke-width="5.4"/>
<rect x="1668.8" y="1718.3" width="74.9" height="157.2" fill="none" stroke="#2D5F8D" stroke-width="3.6"/>
<path d="M1489.2 1669 H1504.8 M1489.2 1712 H1504.8 M1497 1669 V1712" fill="none" stroke="#62B5F7" stroke-width="4.5"/>
<path d="M1593.7 1688 H1609.3 M1593.7 1724.5 H1609.3 M1601.5 1688 V1724.5" fill="none" stroke="#4A8FCB" stroke-width="4.5"/>
<path d="M1698.7 1703 H1714.3 M1698.7 1734.5 H1714.3 M1706.5 1703 V1734.5" fill="none" stroke="#2D5F8D" stroke-width="4.5"/>
<path d="M1434 1586 V1888 H1769.5" fill="none" stroke="#000" stroke-width="1.8" stroke-linejoin="miter"/>
<line x1="1428.5" y1="1615" x2="1434" y2="1615" stroke="#000" stroke-width="1.4"/>
<text x="1424.5" y="1624.7" font-size="26.5" text-anchor="end">30</text>
<line x1="1428.5" y1="1701.5" x2="1434" y2="1701.5" stroke="#000" stroke-width="1.4"/>
<text x="1424.5" y="1711.2" font-size="26.5" text-anchor="end">20</text>
<line x1="1428.5" y1="1788" x2="1434" y2="1788" stroke="#000" stroke-width="1.4"/>
<text x="1424.5" y="1797.7" font-size="26.5" text-anchor="end">10</text>
<line x1="1428.5" y1="1874.5" x2="1434" y2="1874.5" stroke="#000" stroke-width="1.4"/>
<text x="1424.5" y="1884.2" font-size="26.5" text-anchor="end">0</text>
<line x1="1497" y1="1888" x2="1497" y2="1893.5" stroke="#000" stroke-width="1.4"/>
<line x1="1601.5" y1="1888" x2="1601.5" y2="1893.5" stroke="#000" stroke-width="1.4"/>
<line x1="1706.5" y1="1888" x2="1706.5" y2="1893.5" stroke="#000" stroke-width="1.4"/>
<path d="M1506.6 1628.6 V1617.6 H1696.2 V1628.6" fill="none" stroke="#000" stroke-width="2.6"/>
<text x="1601.6" y="1627.6" font-size="36" text-anchor="middle" stroke="#000" stroke-width="0.35">**</text>
<path d="M1506.6 1654.3 V1646 H1591 V1654.3" fill="none" stroke="#000" stroke-width="2.6"/>
<text x="1549" y="1656" font-size="36" text-anchor="middle" stroke="#000" stroke-width="0.35">*</text>
<rect x="1460.2" y="2066.7" width="73.1" height="165.4" fill="#A1D3FC" stroke="#7CC1F9" stroke-width="5.4"/>
<rect x="1459.3" y="2065.8" width="74.9" height="167.2" fill="none" stroke="#62B5F7" stroke-width="3.6"/>
<rect x="1565.2" y="2083.2" width="73.1" height="148.9" fill="#97BFE1" stroke="#6BA3D5" stroke-width="5.4"/>
<rect x="1564.3" y="2082.3" width="74.9" height="150.7" fill="none" stroke="#4A8FCB" stroke-width="3.6"/>
<rect x="1669.7" y="2096.2" width="73.1" height="135.9" fill="#8AA5BC" stroke="#577FA3" stroke-width="5.4"/>
<rect x="1668.8" y="2095.3" width="74.9" height="137.7" fill="none" stroke="#2D5F8D" stroke-width="3.6"/>
<path d="M1489.2 2040.3 H1504.8 M1489.2 2091.4 H1504.8 M1497 2040.3 V2091.4" fill="none" stroke="#62B5F7" stroke-width="4.5"/>
<path d="M1593.7 2063 H1609.3 M1593.7 2103.2 H1609.3 M1601.5 2063 V2103.2" fill="none" stroke="#4A8FCB" stroke-width="4.5"/>
<path d="M1698.7 2078.5 H1714.3 M1698.7 2112.3 H1714.3 M1706.5 2078.5 V2112.3" fill="none" stroke="#2D5F8D" stroke-width="4.5"/>
<path d="M1433.5 1970 V2244.5 H1769.5" fill="none" stroke="#000" stroke-width="1.8" stroke-linejoin="miter"/>
<line x1="1428" y1="1975" x2="1433.5" y2="1975" stroke="#000" stroke-width="1.4"/>
<text x="1424" y="1984.7" font-size="26.5" text-anchor="end">12</text>
<line x1="1428" y1="2039.5" x2="1433.5" y2="2039.5" stroke="#000" stroke-width="1.4"/>
<text x="1424" y="2049.2" font-size="26.5" text-anchor="end">9</text>
<line x1="1428" y1="2104" x2="1433.5" y2="2104" stroke="#000" stroke-width="1.4"/>
<text x="1424" y="2113.7" font-size="26.5" text-anchor="end">6</text>
<line x1="1428" y1="2168" x2="1433.5" y2="2168" stroke="#000" stroke-width="1.4"/>
<text x="1424" y="2177.7" font-size="26.5" text-anchor="end">3</text>
<line x1="1428" y1="2232" x2="1433.5" y2="2232" stroke="#000" stroke-width="1.4"/>
<text x="1424" y="2241.7" font-size="26.5" text-anchor="end">0</text>
<line x1="1497" y1="2244.5" x2="1497" y2="2250" stroke="#000" stroke-width="1.4"/>
<text x="1497" y="2272.2" font-size="26.5" text-anchor="middle">Baseline</text>
<line x1="1601.5" y1="2244.5" x2="1601.5" y2="2250" stroke="#000" stroke-width="1.4"/>
<text x="1601.5" y="2272.2" font-size="26.5" text-anchor="middle">Mid</text>
<line x1="1706.5" y1="2244.5" x2="1706.5" y2="2250" stroke="#000" stroke-width="1.4"/>
<text x="1706.5" y="2272.2" font-size="26.5" text-anchor="middle">End</text>
<path d="M1506.6 2009.3 V1999.1 H1696.2 V2009.3" fill="none" stroke="#000" stroke-width="2.6"/>
<text x="1601.6" y="2009.1" font-size="36" text-anchor="middle" stroke="#000" stroke-width="0.35">**</text>
<path d="M1506.6 2032 V2023.8 H1591 V2032" fill="none" stroke="#000" stroke-width="2.6"/>
<text x="1549" y="2033.8" font-size="36" text-anchor="middle" stroke="#000" stroke-width="0.35">*</text>
</svg>
</body></html>
